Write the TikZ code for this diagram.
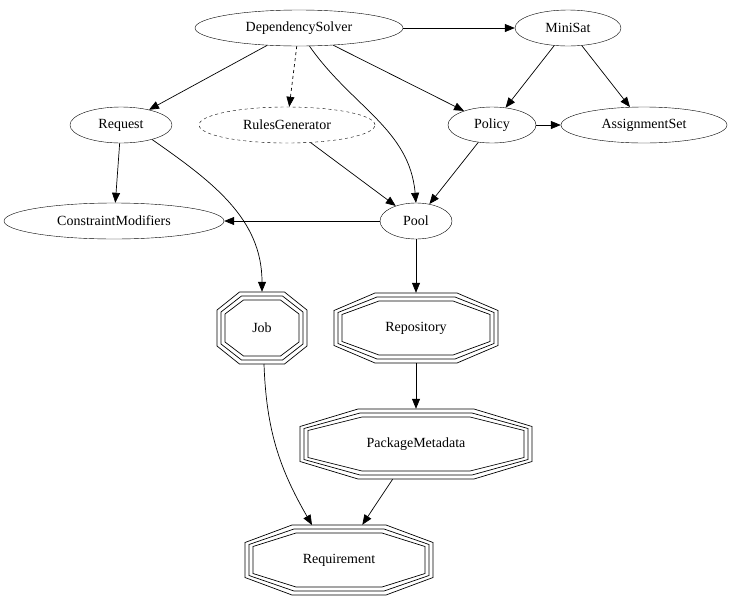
\documentclass[tikz,border=0pt]{standalone}
\usepackage{fontspec}
\setmainfont{Liberation Serif}
\usetikzlibrary{shapes.geometric,arrows.meta}
\begin{document}
\begin{tikzpicture}[x=1pt,y=-1pt,
  every node/.style={font=\fontsize{14}{16}\selectfont},
  el/.style={ellipse,draw,inner sep=0pt,minimum height=36pt},
  oc/.style={rectangle,inner sep=0pt,draw=none},
  >={Triangle[length=10pt,width=8pt]},
  e/.style={->,line width=0.7pt}]
\useasboundingbox (0,0) rectangle (737,603);
\newcommand\octo[3]{\foreach \d in {0,4,8}{\draw[line width=0.7pt,shift={(#1.center)}]
  ({0.5*(#2-\d)},{-(#3-\d)}) -- ({#2-\d},{-0.5*(#3-\d)}) -- ({#2-\d},{0.5*(#3-\d)}) -- ({0.5*(#2-\d)},{#3-\d})
  -- ({-0.5*(#2-\d)},{#3-\d}) -- ({-(#2-\d)},{0.5*(#3-\d)}) -- ({-(#2-\d)},{-0.5*(#3-\d)}) -- ({-0.5*(#2-\d)},{-(#3-\d)}) -- cycle;}}
\node[el,minimum width=208pt] (ds) at (299,28) {DependencySolver};
\node[el,minimum width=106pt] (ms) at (568,28) {MiniSat};
\node[el,minimum width=102pt] (rq) at (121,125) {Request};
\node[el,dashed,minimum width=176pt] (rg) at (287,125) {RulesGenerator};
\node[el,minimum width=88pt] (po) at (492,125) {Policy};
\node[el,minimum width=166pt] (as) at (644,125) {AssignmentSet};
\node[el,minimum width=220pt] (cm) at (114,221) {ConstraintModifiers};
\node[el,minimum width=72pt] (pl) at (416,221) {Pool};
\node[oc,minimum width=90pt,minimum height=72pt] (jb) at (262,328) {Job};
\node[oc,minimum width=164pt,minimum height=70pt] (rp) at (416,328) {Repository};
\node[oc,minimum width=232pt,minimum height=70pt] (pm) at (416,444) {PackageMetadata};
\node[oc,minimum width=188pt,minimum height=70pt] (re) at (339,560) {Requirement};
\octo{jb}{45}{36}
\octo{rp}{82}{35}
\octo{pm}{116}{35}
\octo{re}{94}{35}
\draw[e] (ds) -- (ms);
\draw[e] (ds) -- (rq);
\draw[e,dashed] (ds) -- (rg);
\draw[e] (ds) -- (po);
\draw[e] (ds.-60) to[out=-55,in=95] (pl.north);
\draw[e] (ms) -- (po);
\draw[e] (ms) -- (as);
\draw[e] (po) -- (as);
\draw[e] (po) -- (pl);
\draw[e] (rq) -- (cm);
\draw[e] (rq.-25) to[out=-35,in=90] (jb.north);
\draw[e] (rg) -- (pl);
\draw[e] (pl) -- (cm);
\draw[e] (pl) -- (rp);
\draw[e] (rp) -- (pm);
\draw[e] (pm) -- (re);
\draw[e] (264,364) to[out=-88,in=120] (312,525);
\end{tikzpicture}
\end{document}
